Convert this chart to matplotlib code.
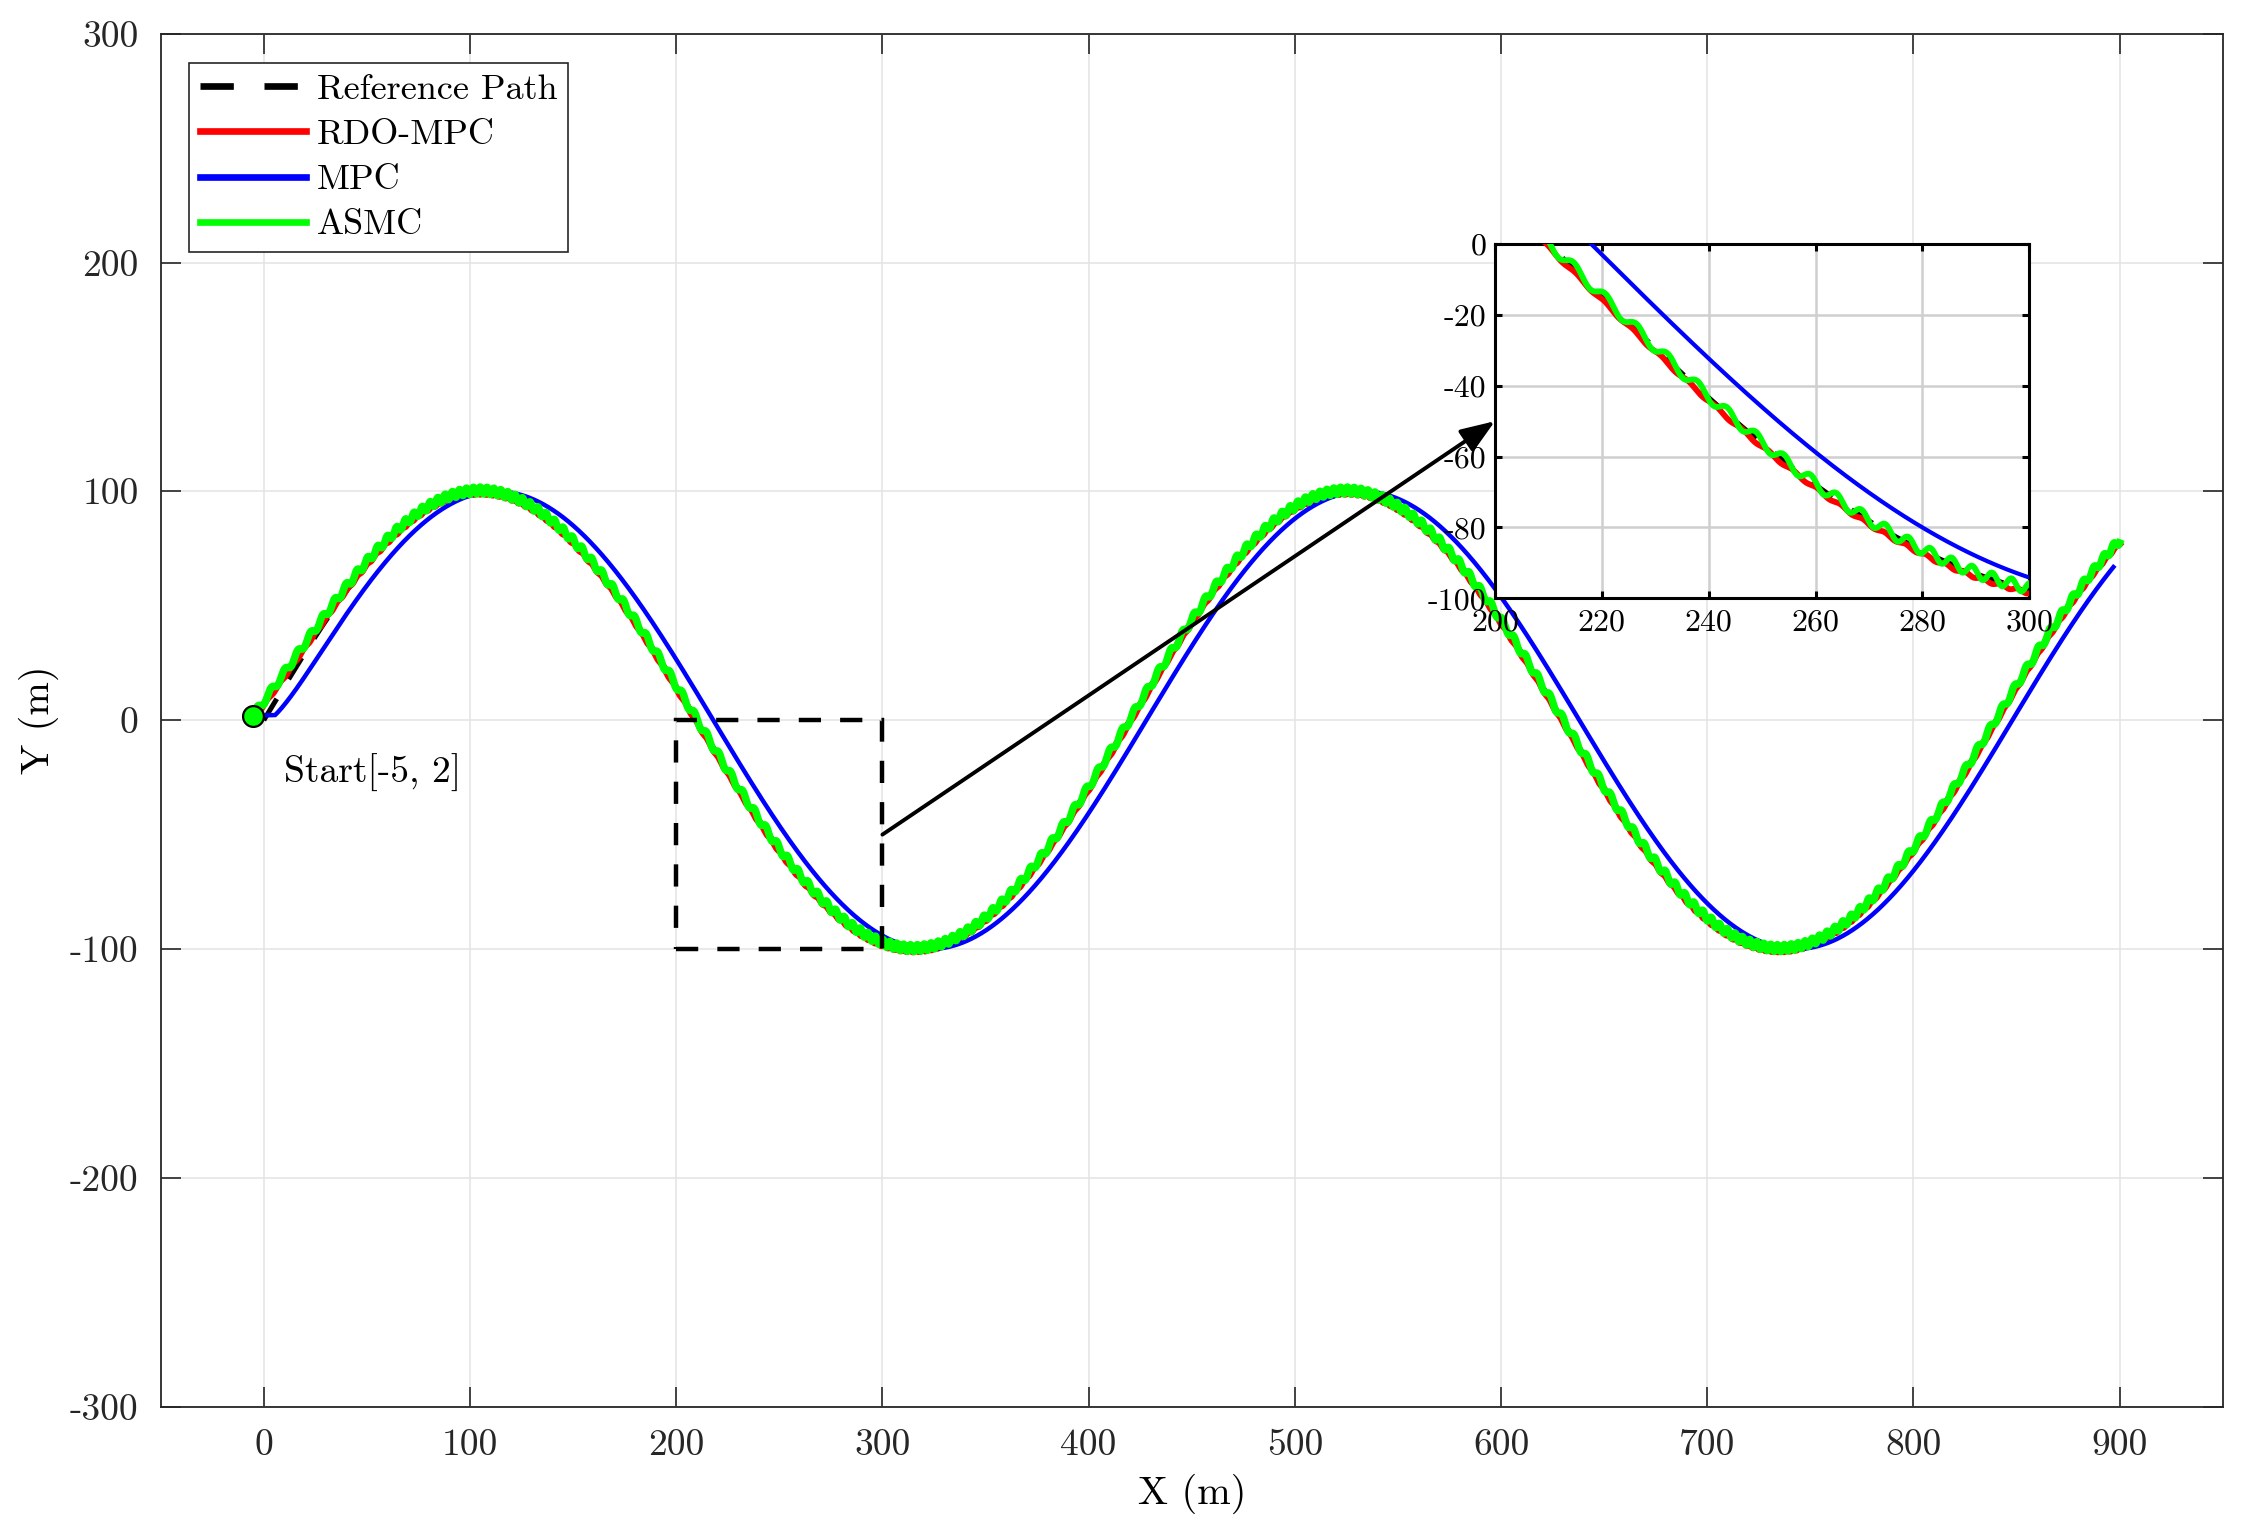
import numpy as np
import matplotlib
matplotlib.use("Agg")
import matplotlib.pyplot as plt
from matplotlib.patches import Rectangle, ConnectionPatch

plt.rcParams['font.family'] = 'serif'
plt.rcParams['font.serif'] = ['cmr10', 'DejaVu Serif']
plt.rcParams['mathtext.fontset'] = 'cm'
plt.rcParams['axes.formatter.use_mathtext'] = True

# ---------------- data ----------------
path_amplitude = 100.0      # m
path_wavelength = 420.0     # m
path_x_start = 0.0
path_x_end = 900.0
start_point = [-5.0, 2.0]
mpc_lag = 8.0               # MPC trajectory lags the path by ~8 m in x
mpc_lag_initial = 4.0
mpc_x_first = 5.5
mpc_x_end = 897.0
asmc_ripple_amp = 1.5       # chattering amplitude (m)
asmc_ripple_period = 3.3    # base chattering period (m)
asmc_offset = 0.4
rdo_ripple_amp = 0.4
rdo_offset = -0.9
x_ticks = [0, 100, 200, 300, 400, 500, 600, 700, 800, 900]
y_ticks = [-300, -200, -100, 0, 100, 200, 300]
inset_x_ticks = [200, 220, 240, 260, 280, 300]
inset_y_ticks = [-100, -80, -60, -40, -20, 0]
zoom_box = [200, -100, 100, 100]   # x0, y0, w, h
labels = ['Reference Path', 'RDO-MPC', 'MPC', 'ASMC']

# ---------------- series ----------------
def ref(x):
    return path_amplitude * np.sin(2 * np.pi * x / path_wavelength)

def ref_slope(x):
    return path_amplitude * 2 * np.pi / path_wavelength * np.cos(2 * np.pi * x / path_wavelength)

x_ref = np.linspace(path_x_start, path_x_end, 4000)
y_ref = ref(x_ref)

xs = np.linspace(path_x_start, path_x_end, 30000)
dx = np.gradient(xs)
phase = 2 * np.pi * np.cumsum(dx / (asmc_ripple_period * np.sqrt(1 + ref_slope(xs) ** 2)))
x_asmc = xs + start_point[0] * np.exp(-xs / 30.0)
y_asmc = ref(xs) + start_point[1] * np.exp(-xs / 15.0) + asmc_offset + asmc_ripple_amp * np.sin(phase)

x_rdo = xs + start_point[0] * np.exp(-xs / 25.0)
y_rdo = ref(xs) + start_point[1] * np.exp(-xs / 12.0) + rdo_offset + rdo_ripple_amp * np.sin(1.1 * phase + 1.3)

xm = np.linspace(mpc_x_first, mpc_x_end, 4000)
lag = mpc_lag - (mpc_lag - mpc_lag_initial) * np.exp(-(xm - mpc_x_first) / 10.0)
x_mpc = np.concatenate([[start_point[0]], xm])
y_mpc = np.concatenate([[start_point[1]],
                        path_amplitude * np.sin(2 * np.pi * (xm - lag) / path_wavelength)])

# ---------------- figure ----------------
W, H, DPI = 2253, 1528, 200
fig = plt.figure(figsize=(W / DPI, H / DPI), dpi=DPI)
ax = fig.add_axes([160.7 / W, 1 - 1406.7 / H, (2222.7 - 160.7) / W, (1406.7 - 33.7) / H])

dash = (5.0, 4.6)
C_RED, C_BLUE, C_GREEN = '#ff0000', '#0000ff', '#00ff00'

def draw(a, lw_green=2.4, lw_red=2.4, lw_blue=1.6):
    a.plot(x_ref, y_ref, color='k', lw=1.8, ls=(0, dash), label=labels[0], zorder=3)
    a.plot(x_rdo, y_rdo, color=C_RED, lw=lw_red, label=labels[1], zorder=4)
    a.plot(x_mpc, y_mpc, color=C_BLUE, lw=lw_blue, label=labels[2], zorder=4)
    a.plot(x_asmc, y_asmc, color=C_GREEN, lw=lw_green, label=labels[3], zorder=5)

draw(ax, lw_green=2.7)
ax.plot([start_point[0]], [start_point[1]], 'o', ms=7.5, mfc=C_GREEN, mec='k', mew=0.8, zorder=6)
ax.text(10, -23, 'Start[-5, 2]', fontsize=13.5, va='center', ha='left')

ax.add_patch(Rectangle((zoom_box[0], zoom_box[1]), zoom_box[2], zoom_box[3], fill=False,
                       ec='k', lw=1.6, ls=(0, (5.0, 4.3)), zorder=7))

ax.set_xlim(-50, 950)
ax.set_ylim(-300, 300)
ax.set_xticks(x_ticks)
ax.set_xticklabels([str(v) for v in x_ticks])
ax.set_yticks(y_ticks)
ax.set_yticklabels([str(v) for v in y_ticks])
ax.tick_params(direction='in', length=7.3, width=0.6, top=True, right=True,
               labelsize=13.5, colors='#262626', pad=8)
for s in ax.spines.values():
    s.set_linewidth(0.65)
    s.set_color('#262626')
ax.grid(True, color='#e3e3e3', lw=0.55)
ax.set_axisbelow(True)
ax.set_xlabel('X (m)', fontsize=14.5, labelpad=4)
ax.set_ylabel('Y (m)', fontsize=14.5, labelpad=4)

leg = ax.legend(loc='upper left', bbox_to_anchor=(0.0137, 0.979), borderaxespad=0,
                fontsize=13, handlelength=2.95, handletextpad=0.3, labelspacing=0.36,
                fancybox=False, edgecolor='#262626', framealpha=1, borderpad=0.3)
leg.get_frame().set_linewidth(0.6)
for l in leg.get_lines():
    l.set_linewidth(2.4)

# ---------------- inset ----------------
axi = fig.add_axes([1495 / W, 1 - 598.3 / H, (2029.3 - 1495) / W, (598.3 - 244) / H])
draw(axi, lw_green=2.1, lw_red=2.1, lw_blue=1.5)
axi.set_xlim(200, 300)
axi.set_ylim(-100, 0)
axi.set_xticks(inset_x_ticks)
axi.set_xticklabels([str(v) for v in inset_x_ticks])
axi.set_yticks(inset_y_ticks)
axi.set_yticklabels([str(v) for v in inset_y_ticks])
axi.tick_params(direction='in', length=2.6, width=1.1, top=True, right=True,
                labelsize=11.5, colors='k', pad=3)
axi.tick_params(axis='x', pad=4)
for s in axi.spines.values():
    s.set_linewidth(1.1)
    s.set_color('k')
axi.grid(True, color='#cfcfcf', lw=0.9)
axi.set_axisbelow(True)
axi.set_facecolor('white')

con = ConnectionPatch(xyA=(300, -50), coordsA=ax.transData,
                      xyB=(200, -50), coordsB=axi.transData,
                      arrowstyle='-|>,head_length=0.8,head_width=0.3', mutation_scale=13,
                      color='k', lw=1.4, zorder=20)
fig.add_artist(con)

fig.savefig('out.png', dpi=DPI)
